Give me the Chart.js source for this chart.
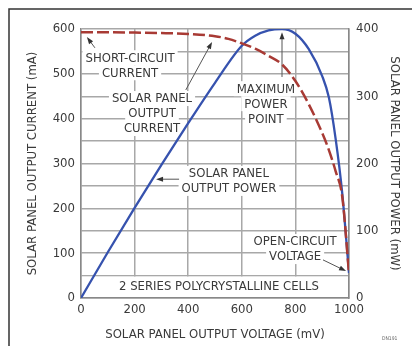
<!DOCTYPE html>
<html>
<head>
<meta charset="utf-8">
<script src="https://cdn.jsdelivr.net/npm/chart.js@4/dist/chart.umd.min.js"></script>
<style>
  html, body { margin: 0; padding: 0; background: #fff; }
  #wrap { width: 412px; height: 346px; position: relative; }
</style>
</head>
<body>
<div id="wrap"><canvas id="chart" width="412" height="346"></canvas></div>
<script>
// values
const currentVoltage = [0, 100, 200, 300, 400, 500, 550, 600, 650, 700, 750, 800, 850, 900, 925, 950, 975, 1000];
const currentMilliamps = [593, 593, 592, 591, 589, 584, 578, 568, 556, 540, 521, 484, 432, 368, 330, 283, 225, 55];

const powerVoltage = [0, 100, 200, 300, 400, 500, 600, 650, 700, 750, 800, 850, 900, 925, 950, 975, 1000];
const powerMilliwatts = [0, 68, 134, 198, 260, 320, 375, 390, 398, 400, 393, 370, 330, 298, 237, 155, 37];

const voltageTicks = [0, 200, 400, 600, 800, 1000];

const FONT = '"DejaVu Sans Condensed", "Liberation Sans Narrow", sans-serif';
const TEXT = '#3a3a3a';
const SIZE = 13;

// callouts, placed in data units (mV, mA)
const callouts = [
  { lines: ['SHORT-CIRCUIT', 'CURRENT'], v: 183, ma: 537 },
  { lines: ['SOLAR PANEL', 'OUTPUT', 'CURRENT'], v: 265, ma: 446 },
  { lines: ['MAXIMUM', 'POWER', 'POINT'], v: 690, ma: 468 },
  { lines: ['SOLAR PANEL', 'OUTPUT POWER'], v: 552, ma: 279 },
  { lines: ['OPEN-CIRCUIT', 'VOLTAGE'], v: 799, ma: 127 },
  { lines: ['2 SERIES POLYCRYSTALLINE CELLS'], v: 515, ma: 27 }
];
const leaders = [
  { from: [52, 558], to: [22, 582] },
  { from: [391, 464], to: [489, 571] },
  { from: [750, 493], to: [750, 593] },
  { from: [366, 265], to: [280, 265] },
  { from: [903, 85], to: [989, 60] }
];

const annotate = {
  id: 'annotate',
  beforeDatasetsDraw(chart) {
    const { ctx, chartArea: a, scales: { x, y } } = chart;
    ctx.save();
    // blank band under 50 mA for the cell note
    ctx.fillStyle = '#fff';
    ctx.fillRect(a.left + 1, y.getPixelForValue(50) + 1, a.right - a.left - 2, y.getPixelForValue(0) - y.getPixelForValue(50) - 2);

    ctx.font = SIZE + 'px ' + FONT;
    ctx.textAlign = 'center';
    ctx.textBaseline = 'middle';
    callouts.forEach(c => {
      const cx = x.getPixelForValue(c.v);
      const cy = y.getPixelForValue(c.ma);
      c.lines.forEach((t, i) => {
        const ty = cy + i * 15;
        const w = ctx.measureText(t).width;
        ctx.fillStyle = '#fff';
        ctx.fillRect(cx - w / 2 - 3, ty - 7, w + 6, 15);
        ctx.fillStyle = TEXT;
        ctx.fillText(t, cx, ty + 1);
      });
    });

    ctx.strokeStyle = '#555';
    ctx.fillStyle = '#333';
    ctx.lineWidth = 1;
    leaders.forEach(l => {
      const x1 = x.getPixelForValue(l.from[0]), y1 = y.getPixelForValue(l.from[1]);
      const x2 = x.getPixelForValue(l.to[0]), y2 = y.getPixelForValue(l.to[1]);
      const ang = Math.atan2(y2 - y1, x2 - x1);
      ctx.beginPath();
      ctx.moveTo(x1, y1);
      ctx.lineTo(x2 - 5 * Math.cos(ang), y2 - 5 * Math.sin(ang));
      ctx.stroke();
      ctx.beginPath();
      ctx.moveTo(x2, y2);
      ctx.lineTo(x2 - 7 * Math.cos(ang) + 2.5 * Math.sin(ang), y2 - 7 * Math.sin(ang) - 2.5 * Math.cos(ang));
      ctx.lineTo(x2 - 7 * Math.cos(ang) - 2.5 * Math.sin(ang), y2 - 7 * Math.sin(ang) + 2.5 * Math.cos(ang));
      ctx.closePath();
      ctx.fill();
    });
    ctx.restore();
  },
  afterDraw(chart) {
    const { ctx } = chart;
    ctx.save();
    // outer frame (top and left edges only visible)
    ctx.strokeStyle = '#333';
    ctx.lineWidth = 1.5;
    ctx.beginPath();
    ctx.moveTo(9, 346);
    ctx.lineTo(9, 9);
    ctx.lineTo(412, 9);
    ctx.stroke();
    ctx.font = '5px ' + FONT;
    ctx.fillStyle = '#666';
    ctx.textAlign = 'left';
    ctx.fillText('DN191', 382, 340);
    ctx.restore();
  }
};

const tickFont = { family: FONT, size: SIZE };

new Chart(document.getElementById('chart'), {
  type: 'line',
  data: {
    datasets: [
      {
        label: 'Current',
        data: currentVoltage.map((v, i) => ({ x: v, y: currentMilliamps[i] })),
        yAxisID: 'y',
        borderColor: '#a83a34',
        borderWidth: 2.5,
        borderDash: [12, 4],
        pointRadius: 0,
        cubicInterpolationMode: 'monotone',
        fill: false
      },
      {
        label: 'Power',
        data: powerVoltage.map((v, i) => ({ x: v, y: powerMilliwatts[i] })),
        yAxisID: 'y2',
        borderColor: '#3652ae',
        borderWidth: 2.3,
        pointRadius: 0,
        cubicInterpolationMode: 'monotone',
        fill: false
      }
    ]
  },
  options: {
    responsive: false,
    animation: false,
    layout: { padding: { top: 29, left: 0, right: 0, bottom: 0 } },
    plugins: { legend: { display: false }, tooltip: { enabled: false } },
    scales: {
      x: {
        type: 'linear', min: 0, max: 1000,
        afterBuildTicks: s => { s.ticks = voltageTicks.map(v => ({ value: v })); },
        afterFit: s => { s.height = 48; },
        grid: { color: '#a8a8a8', lineWidth: 1.5, drawTicks: false },
        border: { color: '#888', width: 1.5 },
        ticks: { padding: 4, color: TEXT, font: tickFont, maxRotation: 0, callback: v => String(v) },
        title: { display: true, text: 'SOLAR PANEL OUTPUT VOLTAGE (mV)', color: TEXT, font: tickFont, padding: { top: 0, bottom: 4 } }
      },
      y: {
        position: 'left', min: 0, max: 600,
        afterFit: s => { s.width = 81; },
        grid: { color: '#a8a8a8', lineWidth: 1.5, drawTicks: false },
        border: { color: '#888', width: 1.5 },
        ticks: { stepSize: 50, padding: 6, color: TEXT, font: tickFont, callback: v => (v % 100 === 0 ? String(v) : '') },
        title: { display: true, text: 'SOLAR PANEL OUTPUT CURRENT (mA)', color: TEXT, font: tickFont, padding: { top: 25, bottom: 0 } }
      },
      y2: {
        position: 'right', min: 0, max: 400,
        afterFit: s => { s.width = 63; },
        grid: { display: false, drawTicks: false },
        border: { color: '#888', width: 1.5 },
        ticks: { stepSize: 100, padding: 7, color: TEXT, font: tickFont },
        title: { display: true, text: 'SOLAR PANEL OUTPUT POWER (mW)', color: TEXT, font: tickFont, padding: { top: 10, bottom: 0 } }
      }
    }
  },
  plugins: [annotate]
});
</script>
</body>
</html>
